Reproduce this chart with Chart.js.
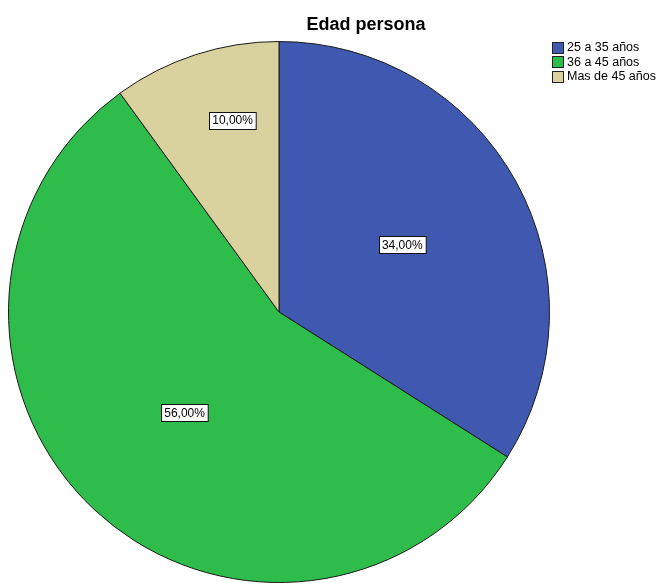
<!DOCTYPE html>
<html><head><meta charset="utf-8">
<script src="https://cdn.jsdelivr.net/npm/chart.js@4/dist/chart.umd.min.js"></script>
<style>html,body{margin:0;padding:0;background:#fff}canvas{display:block}</style>
</head><body>
<canvas id="c" width="659" height="584"></canvas>
<script>
const titleText = "Edad persona";
const categories = ["25 a 35 años", "36 a 45 años", "Mas de 45 años"];
const percentages = [34.0, 56.0, 10.0];
const colors = ["#3f59b0", "#2ebd4a", "#d9d29f"];

const fmt = v => v.toFixed(2).replace(".", ",") + "%";

const overlay = {
  id: "overlay",
  afterDraw(chart, args, opts) {
    const ctx = chart.ctx;
    const meta = chart.getDatasetMeta(0);
    ctx.save();
    // slice labels
    ctx.font = "12px 'Liberation Sans', Arial, sans-serif";
    ctx.textAlign = "center";
    ctx.textBaseline = "middle";
    meta.data.forEach((arc, i) => {
      const p = opts.placement[i];
      const mid = (arc.startAngle + arc.endAngle) / 2 + p.a * Math.PI / 180;
      const r = arc.outerRadius * p.r;
      const x = arc.x + Math.cos(mid) * r;
      const y = arc.y + Math.sin(mid) * r;
      const t = fmt(chart.data.datasets[0].data[i]);
      const w = ctx.measureText(t).width + 6;
      const h = 17;
      const bx = Math.round(x - w / 2) + 0.5, by = Math.round(y - h / 2) + 0.5;
      ctx.fillStyle = "#fff";
      ctx.fillRect(bx, by, w, h);
      ctx.strokeStyle = "#111";
      ctx.lineWidth = 1;
      ctx.strokeRect(bx, by, w, h);
      ctx.fillStyle = "#000";
      ctx.fillText(t, x, y + 1);
    });
    // title
    ctx.font = "bold 18px 'Liberation Sans', Arial, sans-serif";
    ctx.textBaseline = "alphabetic";
    ctx.fillStyle = "#000";
    ctx.fillText(titleText, 366, 30);
    // legend
    ctx.font = "12.5px 'Liberation Sans', Arial, sans-serif";
    ctx.textAlign = "left";
    ctx.textBaseline = "middle";
    chart.data.labels.forEach((lab, i) => {
      const y = 47 + i * 14.5;
      ctx.fillStyle = colors[i];
      ctx.fillRect(552.5, Math.round(y - 5.5) + 0.5, 11, 11);
      ctx.strokeStyle = "#222";
      ctx.strokeRect(552.5, Math.round(y - 5.5) + 0.5, 11, 11);
      ctx.fillStyle = "#000";
      ctx.fillText(lab, 567, y + 1);
    });
    ctx.restore();
  }
};

new Chart(document.getElementById("c"), {
  type: "pie",
  data: {
    labels: categories,
    datasets: [{
      data: percentages,
      backgroundColor: colors,
      borderColor: "#1a1a1a",
      borderWidth: 1
    }]
  },
  options: {
    responsive: false,
    animation: false,
    layout: { padding: { left: 8, right: 109, top: 41, bottom: 1 } },
    plugins: {
      legend: { display: false },
      title: { display: false },
      tooltip: { enabled: false },
      overlay: { placement: [{ r: 0.52, a: 0 }, { r: 0.51, a: 0 }, { r: 0.73, a: 4.4 }] }
    }
  },
  plugins: [overlay]
});
</script>
</body></html>
